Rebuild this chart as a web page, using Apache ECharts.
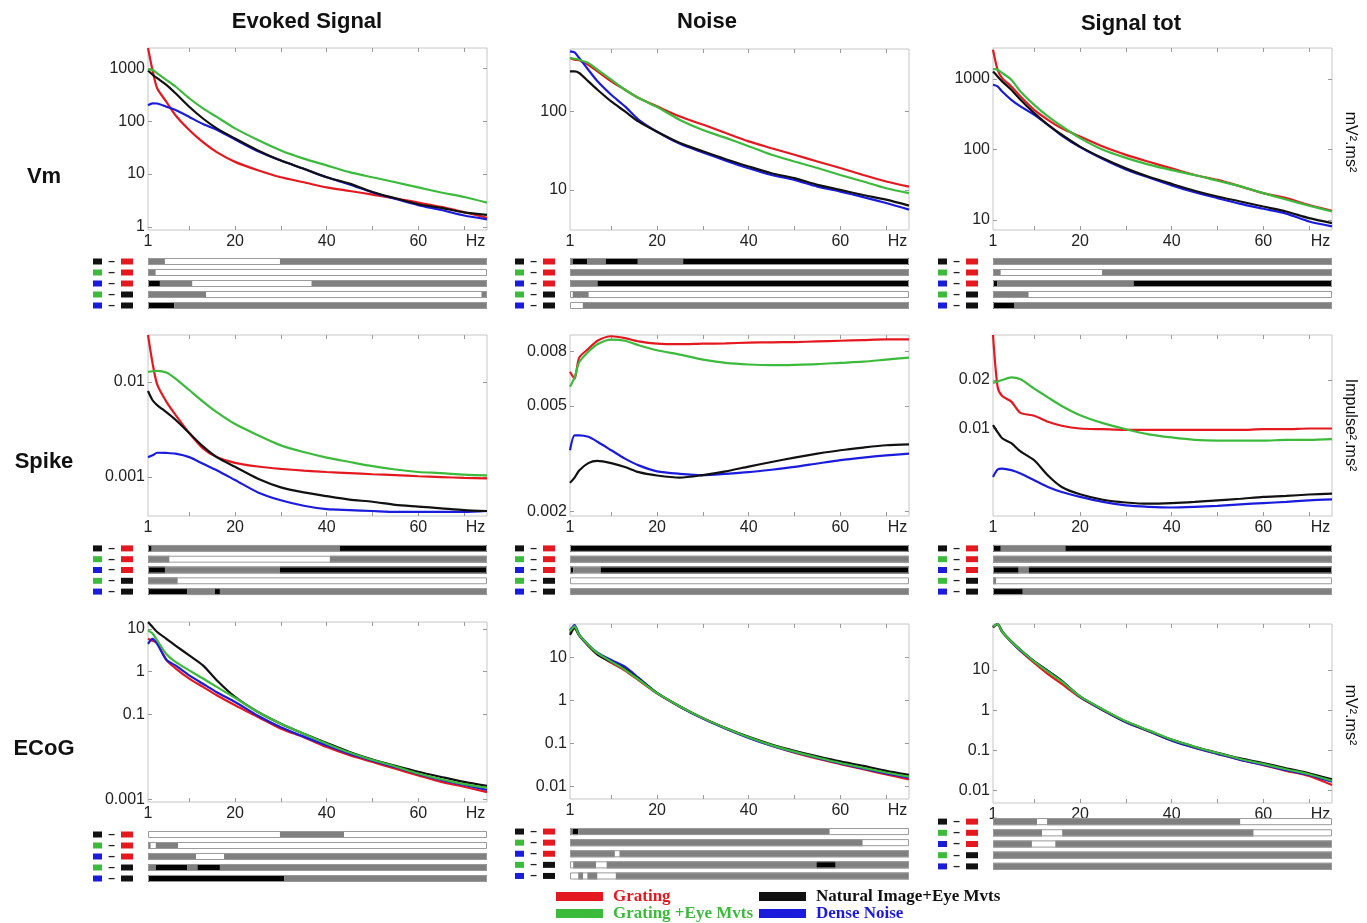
<!DOCTYPE html>
<html><head><meta charset="utf-8">
<script src="https://cdn.jsdelivr.net/npm/echarts@6/dist/echarts.min.js"></script>
<style>html,body{margin:0;padding:0;background:#fff}#c{width:1367px;height:923px}</style>
</head><body><div id="c"></div>
<script>
// ---------------- DATA ----------------
const freqs = [1,2,3,5,7,10,13,16,20,25,30,35,40,45,50,55,60,65,70,75];
const xTickValues = [10,20,30,40,50,60,70];
const xLabelValues = [1,20,40,60,72.5];
const xLabelTexts = ['1','20','40','60','Hz'];

// Vm - Evoked Signal
const vmEvokedRed   = [2400,900,417,232,129,68,40,26,17,11.8,8.7,7.0,5.6,4.8,4.1,3.5,2.9,2.4,1.9,1.5];
const vmEvokedGreen = [960,920,800,600,450,270,174,120,73,44,28,19.6,14.6,10.9,8.7,7.0,5.6,4.5,3.7,2.9];
const vmEvokedBlack = [900,750,645,483,335,187,112,73,47,28,18,12.6,8.7,6.6,4.6,3.5,2.7,2.3,1.9,1.7];
const vmEvokedBlue  = [200,217,215,187,162,120,88,69,45,27,18,12.6,8.7,6.4,4.5,3.4,2.6,2.1,1.65,1.4];
// Vm - Noise
const vmNoiseRed   = [480,457,450,394,324,242,189,148,116,86,68,53,41.5,34,28,23,19,15.5,12.8,11];
const vmNoiseGreen = [480,470,455,414,340,254,189,148,114,78,58,46,36,28,23,19,15.5,12.8,10.5,9.1];
const vmNoiseBlack = [324,324,309,242,189,134,100,74,55,39.5,31,24.6,19.9,16.3,14.1,11.6,10,8.6,7.5,6.3];
const vmNoiseBlue  = [584,565,480,340,242,163,116,78,55,38.6,30,23.6,18.9,15.5,13.4,11,9.5,8.1,6.8,5.6];
// Vm - Signal tot
const vmTotRed   = [2600,1360,1030,786,567,366,264,200,153,110,84,67,54,43.5,37,30,24,20.4,16.3,13.5];
const vmTotGreen = [1390,1360,1220,980,667,430,295,214,145,99,76,61,51,43.5,36,30,24,19.5,15.9,13.2];
const vmTotBlack = [1285,1090,927,705,508,328,224,162,110,75,54,41,32.5,26,21.5,18.3,15.5,13.2,10.6,9.0];
const vmTotBlue  = [830,786,667,508,409,311,224,158,108,73,52,40,31,24.7,20.4,16.9,14.4,12.3,9.5,8.1];
// Spike - Evoked Signal
const spEvokedRed   = [0.031,0.0156,0.0094,0.0062,0.0045,0.0029,0.0020,0.00162,0.00141,0.00129,0.00122,0.00117,0.00113,0.0011,0.00107,0.00105,0.00102,0.001,0.00098,0.00097];
const spEvokedGreen = [0.0127,0.0129,0.013,0.0125,0.0108,0.0082,0.0062,0.0048,0.0036,0.00275,0.00215,0.00183,0.0016,0.00144,0.0013,0.0012,0.00113,0.0011,0.00106,0.00104];
const spEvokedBlack = [0.008,0.0064,0.0057,0.0048,0.004,0.0029,0.0021,0.00162,0.00128,0.00096,0.00078,0.00069,0.00063,0.00058,0.00055,0.00051,0.00049,0.00047,0.00045,0.00044];
const spEvokedBlue  = [0.00162,0.00169,0.0018,0.00179,0.00176,0.00162,0.00138,0.00118,0.00093,0.00069,0.00057,0.0005,0.00046,0.00045,0.00044,0.00043,0.00043,0.00043,0.00043,0.00044];
// Spike - Noise
const spNoiseRed   = [0.00672,0.00632,0.0076,0.0082,0.0088,0.00915,0.009,0.00875,0.00858,0.00854,0.00858,0.0086,0.00866,0.00868,0.0087,0.00875,0.0088,0.00885,0.0089,0.0089];
const spNoiseGreen = [0.0059,0.0064,0.0073,0.008,0.00854,0.00889,0.0088,0.00846,0.0081,0.0078,0.00747,0.00726,0.00716,0.00712,0.00714,0.00718,0.00726,0.00734,0.00747,0.0076];
const spNoiseBlack = [0.00256,0.00268,0.00285,0.00304,0.0031,0.00304,0.00294,0.00281,0.00273,0.00268,0.00274,0.00283,0.00295,0.00307,0.00319,0.0033,0.0034,0.00348,0.00355,0.00358];
const spNoiseBlue  = [0.0034,0.00387,0.00387,0.00382,0.00366,0.0034,0.00316,0.00298,0.00283,0.00277,0.00274,0.00277,0.00281,0.00287,0.00294,0.00303,0.00312,0.00319,0.00325,0.0033];
// Spike - Signal tot
const spTotRed   = [0.0381,0.0182,0.0159,0.0147,0.0125,0.012,0.011,0.0104,0.01,0.0099,0.0098,0.0098,0.0098,0.0098,0.0098,0.0098,0.0099,0.0099,0.01,0.01];
const spTotGreen = [0.0192,0.0196,0.02,0.0208,0.0202,0.0177,0.0156,0.0138,0.0121,0.0108,0.0099,0.0092,0.0088,0.0085,0.0084,0.0084,0.0084,0.0085,0.0085,0.0086];
const spTotBlack = [0.0105,0.0095,0.0087,0.0081,0.0072,0.00635,0.0051,0.00433,0.0039,0.00361,0.00347,0.00341,0.00344,0.0035,0.00358,0.00366,0.00376,0.00381,0.00389,0.00394];
const spTotBlue  = [0.005,0.00556,0.00564,0.00551,0.00525,0.00477,0.00433,0.00403,0.00376,0.0035,0.00333,0.00326,0.00323,0.00326,0.00331,0.00338,0.00344,0.0035,0.00358,0.00363];
// ECoG - Evoked Signal
const ecEvokedRed   = [5.9,5.3,4.7,1.9,1.2,0.69,0.44,0.28,0.163,0.087,0.046,0.029,0.0171,0.011,0.0076,0.0053,0.0037,0.0026,0.002,0.0015];
const ecEvokedGreen = [9.3,7.8,5.4,2.6,1.69,1.07,0.69,0.44,0.244,0.113,0.06,0.035,0.0205,0.0127,0.0085,0.006,0.0041,0.003,0.0023,0.0019];
const ecEvokedBlack = [14.6,11.1,8.5,5.9,4.1,2.4,1.4,0.63,0.255,0.113,0.06,0.035,0.0213,0.0131,0.0087,0.0062,0.0045,0.0034,0.0026,0.0021];
const ecEvokedBlue  = [4.5,5.9,4.5,1.9,1.4,0.82,0.52,0.33,0.195,0.093,0.05,0.03,0.0187,0.0119,0.0082,0.0058,0.004,0.0029,0.0022,0.0017];
// ECoG - Noise
const ecNoiseRed   = [37,50,32,18.5,11.8,7.4,4.9,2.9,1.45,0.71,0.38,0.222,0.136,0.088,0.061,0.044,0.033,0.025,0.019,0.0145];
const ecNoiseGreen = [40,52,33,19.3,12.4,7.9,5.1,3.0,1.46,0.72,0.385,0.225,0.139,0.091,0.064,0.047,0.035,0.027,0.021,0.0168];
const ecNoiseBlack = [33,47,32,18.5,11.5,7.8,5.3,3.1,1.46,0.72,0.385,0.226,0.141,0.094,0.067,0.05,0.038,0.03,0.023,0.0186];
const ecNoiseBlue  = [42,56,34,19.5,12.8,8.6,6.0,3.3,1.48,0.71,0.375,0.218,0.134,0.088,0.062,0.046,0.034,0.026,0.02,0.016];
// ECoG - Signal tot
const ecTotRed   = [118,138,88,50,30,15,7.9,4.5,2.1,1.0,0.51,0.30,0.178,0.116,0.082,0.058,0.043,0.031,0.023,0.0137];
const ecTotGreen = [120,140,90,51,31.5,16.2,9.1,5.2,2.2,1.04,0.53,0.315,0.186,0.123,0.086,0.061,0.046,0.034,0.0255,0.0175];
const ecTotBlack = [115,140,90,52,32,16.5,9.4,5.4,2.2,1.03,0.52,0.31,0.185,0.123,0.087,0.063,0.048,0.036,0.027,0.019];
const ecTotBlue  = [118,140,92,50,30.5,16.5,9.5,5.4,2.15,1.0,0.505,0.30,0.175,0.116,0.082,0.058,0.044,0.032,0.0245,0.0165];

// y tick labels
const vmEvokedTicks = [1,10,100,1000];
const vmNoiseTicks = [10,100];
const vmTotTicks = [10,100,1000];
const spEvokedTicks = [0.001,0.01];
const spNoiseTicks = [0.002,0.005,0.008];
const spTotTicks = [0.01,0.02];
const ecEvokedTicks = [0.001,0.1,1,10];
const ecNoiseTicks = [0.01,0.1,1,10];
const ecTotTicks = [0.01,0.1,1,10];

// significance strips: [startHz, endHz, state] state 0=white 1=grey 2=black
const pairRows = ['k-r','g-r','b-r','g-k','b-k'];
const vmEvokedStrips = [
 [[1,4.7,1],[4.7,29.8,0],[29.8,75,1]],
 [[1,2.7,1],[2.7,75,0]],
 [[1,3.6,2],[3.6,10.7,1],[10.7,36.7,0],[36.7,75,1]],
 [[1,13.7,1],[13.7,73.8,0],[73.8,75,1]],
 [[1,6.7,2],[6.7,75,1]]
];
const vmNoiseStrips = [
 [[1,1.6,1],[1.6,4.8,2],[4.8,8.8,1],[8.8,15.8,2],[15.8,25.7,1],[25.7,75,2]],
 [[1,75,1]],
 [[1,7,1],[7,75,2]],
 [[1,1.6,0],[1.6,5.1,1],[5.1,75,0]],
 [[1,3.8,0],[3.8,75,1]]
];
const vmTotStrips = [
 [[1,75,1]],
 [[1,2.7,1],[2.7,24.8,0],[24.8,75,1]],
 [[1,1.9,2],[1.9,31.7,1],[31.7,75,2]],
 [[1,8.8,1],[8.8,75,0]],
 [[1,5.7,2],[5.7,75,1]]
];
const spEvokedStrips = [
 [[1,1.8,2],[1.8,42.9,1],[42.9,75,2]],
 [[1,5.7,1],[5.7,40.7,0],[40.7,75,1]],
 [[1,4.7,2],[4.7,29.8,1],[29.8,75,2]],
 [[1,7.5,1],[7.5,75,0]],
 [[1,9.6,2],[9.6,15.6,1],[15.6,16.7,2],[16.7,75,1]]
];
const spNoiseStrips = [
 [[1,75,2]],
 [[1,75,1]],
 [[1,1.7,2],[1.7,7.7,1],[7.7,75,2]],
 [[1,75,0]],
 [[1,75,1]]
];
const spTotStrips = [
 [[1,2.7,2],[2.7,16.8,1],[16.8,75,2]],
 [[1,75,1]],
 [[1,6.6,2],[6.6,8.8,1],[8.8,75,2]],
 [[1,1.7,1],[1.7,75,0]],
 [[1,7.5,2],[7.5,75,1]]
];
const ecEvokedStrips = [
 [[1,29.8,0],[29.8,43.8,1],[43.8,75,0]],
 [[1,1.6,1],[1.6,2.7,0],[2.7,7.6,1],[7.6,75,0]],
 [[1,11.5,1],[11.5,17.6,0],[17.6,75,1]],
 [[1,2.7,1],[2.7,9.6,2],[9.6,11.8,1],[11.8,16.7,2],[16.7,75,1]],
 [[1,30.7,2],[30.7,75,1]]
];
const ecNoiseStrips = [
 [[1,1.6,1],[1.6,2.8,2],[2.8,57.7,1],[57.7,75,0]],
 [[1,64.9,1],[64.9,75,0]],
 [[1,10.8,1],[10.8,11.8,0],[11.8,75,1]],
 [[1,1.7,0],[1.7,6.7,1],[6.7,9,0],[9,54.8,1],[54.8,59,2],[59,75,1]],
 [[1,2.8,0],[2.8,3.9,1],[3.9,4.8,0],[4.8,7,1],[7,11,0],[11,75,1]]
];
const ecTotStrips = [
 [[1,10.6,1],[10.6,12.8,0],[12.8,55,1],[55,75,0]],
 [[1,11.7,1],[11.7,16.1,0],[16.1,57.9,1],[57.9,75,0]],
 [[1,9.5,1],[9.5,14.6,0],[14.6,75,1]],
 [[1,75,1]],
 [[1,75,1]]
];

// ---------------- LAYOUT / STYLE ----------------
const C = {red:'#e3191f', green:'#3cba3c', black:'#111111', blue:'#1b1bdc'};
const NAMES = {red:'Grating', green:'Grating +Eye Mvts', black:'Natural Image+Eye Mvts', blue:'Dense Noise'};
const stateColor = ['#ffffff','#808080','#000000'];
const colX = [148, 570, 993];
const plotW = 339;

const panels = [
 {c:0, top:48, bot:230, ymin:0.88, ymax:2400, ticks:vmEvokedTicks, d:{red:vmEvokedRed,green:vmEvokedGreen,black:vmEvokedBlack,blue:vmEvokedBlue}, strips:vmEvokedStrips, st:256, sb:311},
 {c:1, top:49, bot:230, ymin:3.08, ymax:625, ticks:vmNoiseTicks, d:{red:vmNoiseRed,green:vmNoiseGreen,black:vmNoiseBlack,blue:vmNoiseBlue}, strips:vmNoiseStrips, st:256, sb:311},
 {c:2, top:48, bot:230, ymin:7.2, ymax:2760, ticks:vmTotTicks, d:{red:vmTotRed,green:vmTotGreen,black:vmTotBlack,blue:vmTotBlue}, strips:vmTotStrips, st:256, sb:311},
 {c:0, top:335, bot:516, ymin:0.00039, ymax:0.031, ticks:spEvokedTicks, d:{red:spEvokedRed,green:spEvokedGreen,black:spEvokedBlack,blue:spEvokedBlue}, strips:spEvokedStrips, st:543, sb:597},
 {c:1, top:335, bot:516, ymin:0.00192, ymax:0.00925, ticks:spNoiseTicks, d:{red:spNoiseRed,green:spNoiseGreen,black:spNoiseBlack,blue:spNoiseBlue}, strips:spNoiseStrips, st:543, sb:597},
 {c:2, top:335, bot:516, ymin:0.00286, ymax:0.0381, ticks:spTotTicks, d:{red:spTotRed,green:spTotGreen,black:spTotBlack,blue:spTotBlue}, strips:spTotStrips, st:543, sb:597},
 {c:0, top:622, bot:802, ymin:0.00088, ymax:14.6, ticks:ecEvokedTicks, d:{red:ecEvokedRed,green:ecEvokedGreen,black:ecEvokedBlack,blue:ecEvokedBlue}, strips:ecEvokedStrips, st:829, sb:884},
 {c:1, top:624, bot:799, ymin:0.0051, ymax:59, ticks:ecNoiseTicks, d:{red:ecNoiseRed,green:ecNoiseGreen,black:ecNoiseBlack,blue:ecNoiseBlue}, strips:ecNoiseStrips, st:826, sb:881.5},
 {c:2, top:624, bot:803, ymin:0.0049, ymax:140, ticks:ecTotTicks, d:{red:ecTotRed,green:ecTotGreen,black:ecTotBlack,blue:ecTotBlue}, strips:ecTotStrips, st:816, sb:872}
];

const FONT = 'Liberation Sans, Arial, sans-serif';
const labelFmt = v => String(+Number(v).toPrecision(6));
const grids = [], xAxes = [], yAxes = [], series = [];
const N = panels.length;

panels.forEach((p, i) => {
  grids.push({left: colX[p.c], width: plotW, top: p.top, height: p.bot - p.top, show: true, borderColor: '#c6c6c6', borderWidth: 1, backgroundColor: 'transparent'});
});
panels.forEach((p, i) => {
  grids.push({left: colX[p.c], width: plotW, top: p.st, height: p.sb - p.st, show: false});
});
panels.forEach((p, i) => {
  xAxes.push({type:'value', gridIndex:i, min:1, max:75, position:'bottom',
    axisLine:{show:false}, splitLine:{show:false},
    axisTick:{show:true, inside:true, length:4, customValues:xTickValues, lineStyle:{color:'#9a9a9a'}},
    axisLabel:{show:true, margin:4, customValues:xLabelValues, fontFamily:FONT, fontSize:16, color:'#222',
      formatter: v => { const k = xLabelValues.indexOf(v); return k >= 0 ? xLabelTexts[k] : ''; }}
  });
});
panels.forEach((p, i) => {
  xAxes.push({type:'value', gridIndex:i, min:1, max:75, position:'top',
    axisLine:{show:false}, splitLine:{show:false}, axisLabel:{show:false},
    axisTick:{show:true, inside:true, length:4, customValues:xTickValues, lineStyle:{color:'#9a9a9a'}}});
});
panels.forEach((p, i) => {
  xAxes.push({type:'value', gridIndex:N+i, min:1, max:75, show:false});
});
panels.forEach((p, i) => {
  yAxes.push({type:'log', gridIndex:i, min:p.ymin, max:p.ymax, position:'left', logBase:10,
    axisLine:{show:false}, splitLine:{show:false},
    axisTick:{show:true, inside:true, length:4, customValues:p.ticks, lineStyle:{color:'#9a9a9a'}},
    axisLabel:{show:true, margin:3, customValues:p.ticks, fontFamily:FONT, fontSize:16, color:'#222', formatter:labelFmt}
  });
});
panels.forEach((p, i) => {
  yAxes.push({type:'log', gridIndex:i, min:p.ymin, max:p.ymax, position:'right', logBase:10,
    axisLine:{show:false}, splitLine:{show:false}, axisLabel:{show:false},
    axisTick:{show:true, inside:true, length:4, customValues:p.ticks, lineStyle:{color:'#9a9a9a'}}});
});
const pairFmt = {
  'k-r':'{k1| }{d|–}{r2| }', 'g-r':'{g1| }{d|–}{r2| }', 'b-r':'{b1| }{d|–}{r2| }',
  'g-k':'{g1| }{d|–}{k2| }', 'b-k':'{b1| }{d|–}{k2| }'
};
panels.forEach((p, i) => {
  yAxes.push({type:'category', gridIndex:N+i, data:pairRows, inverse:true,
    axisLine:{show:false}, axisTick:{show:false}, splitLine:{show:false},
    axisLabel:{show:true, interval:0, margin:15, hideOverlap:false, formatter: v => pairFmt[v],
      rich:{
        k1:{width:9,height:6,backgroundColor:C.black}, g1:{width:9,height:6,backgroundColor:C.green}, b1:{width:9,height:6,backgroundColor:C.blue},
        r2:{width:12,height:6,backgroundColor:C.red}, k2:{width:12,height:6,backgroundColor:C.black},
        d:{width:19, align:'center', fontSize:12, fontWeight:'bold', lineHeight:8, color:'#222', fontFamily:FONT}
      }}
  });
});

const order = ['red','blue','black','green'];
panels.forEach((p, i) => {
  order.forEach(k => {
    series.push({type:'line', name:NAMES[k], xAxisIndex:i, yAxisIndex:i,
      data: freqs.map((f, j) => [f, p.d[k][j]]),
      symbol:'none', smooth:0.25, clip:true, silent:true,
      lineStyle:{color:C[k], width:2.2}, itemStyle:{color:C[k]}});
  });
});
panels.forEach((p, i) => {
  const segs = [];
  p.strips.forEach((row, r) => row.forEach(s => segs.push([r, s[0], s[1], s[2]])));
  series.push({type:'custom', xAxisIndex:2*N+i, yAxisIndex:2*N+i, silent:true,
    data: segs, encode:{x:[1,2], y:0},
    renderItem: (params, api) => {
      const r = api.value(0), a = api.value(1), b = api.value(2), st = api.value(3);
      const p0 = api.coord([a, r]), p1 = api.coord([b, r]);
      const h = api.size([0, 1])[1] * 0.64;
      return {type:'rect', shape:{x:p0[0], y:p0[1]-h/2, width:p1[0]-p0[0], height:h},
        style:{fill: stateColor[st], stroke:null}};
    }
  });
  series.push({type:'custom', xAxisIndex:2*N+i, yAxisIndex:2*N+i, silent:true,
    data: pairRows.map((_, r) => [r, 1, 75]), encode:{x:[1,2], y:0},
    renderItem: (params, api) => {
      const r = api.value(0);
      const p0 = api.coord([api.value(1), r]), p1 = api.coord([api.value(2), r]);
      const h = api.size([0, 1])[1] * 0.64;
      return {type:'rect', shape:{x:p0[0]+0.5, y:p0[1]-h/2+0.5, width:p1[0]-p0[0]-1, height:h-1},
        style:{fill:'none', stroke:'#9a9a9a', lineWidth:1}};
    }
  });
});

const txt = (x, y, text, font, extra) => Object.assign({type:'text', x, y, silent:true,
  style:{text, font, fill:'#111', align:'center', verticalAlign:'middle', textAlign:'center', textVerticalAlign:'middle'}}, extra || {});
const graphic = [
  txt(307, 22, 'Evoked Signal', 'bold 22px Liberation Sans'),
  txt(707, 22, 'Noise', 'bold 22px Liberation Sans'),
  txt(1131, 24, 'Signal tot', 'bold 22px Liberation Sans'),
  txt(44, 177, 'Vm', 'bold 22px Liberation Sans'),
  txt(44, 462, 'Spike', 'bold 22px Liberation Sans'),
  txt(44, 749, 'ECoG', 'bold 22px Liberation Sans'),
  txt(1350, 142, 'mV².ms²', '16px Liberation Sans', {rotation:-Math.PI/2}),
  txt(1350, 425, 'Impulse².ms²', '16px Liberation Sans', {rotation:-Math.PI/2}),
  txt(1350, 715, 'mV².ms²', '16px Liberation Sans', {rotation:-Math.PI/2})
];

const legendItem = (key, left, top) => ({orient:'horizontal', icon:'rect', itemWidth:47, itemHeight:9, padding:0,
  left, top, selectedMode:false,
  textStyle:{fontFamily:'Liberation Serif', fontWeight:'bold', fontSize:17, lineHeight:17, color:C[key], padding:[0,0,0,5]},
  data:[{name:NAMES[key], textStyle:{color:C[key]}}]});
const legend = [
  legendItem('red', 556, 888),
  legendItem('green', 556, 905),
  legendItem('black', 759, 888),
  legendItem('blue', 759, 905)
];

const chart = echarts.init(document.getElementById('c'));
chart.setOption({animation:false, backgroundColor:'#fff', grid:grids, xAxis:xAxes, yAxis:yAxes, series, graphic, legend});
</script></body></html>
